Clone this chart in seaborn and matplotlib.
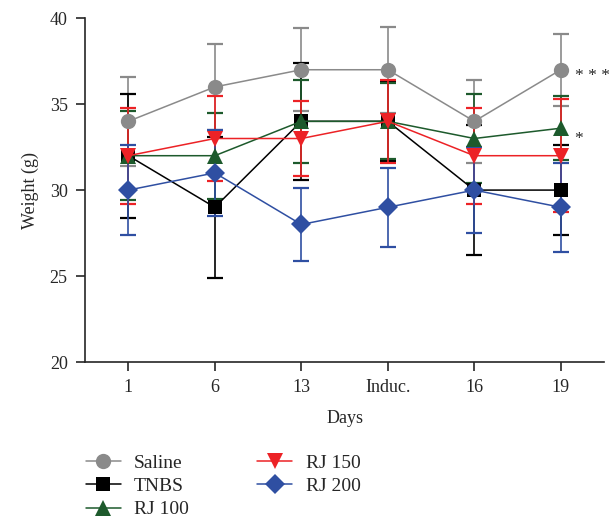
import numpy as np
import pandas as pd
import matplotlib
matplotlib.use("Agg")
import matplotlib.pyplot as plt
import seaborn as sns

# Données
days = ["1", "6", "13", "Induc.", "16", "19"]
groups = ["Saline", "TNBS", "RJ 100", "RJ 150", "RJ 200"]
saline = [34, 36, 37, 37, 34, 37]
saline_sd = [2.6, 2.5, 2.4, 2.5, 2.4, 2.1]
tnbs = [32, 29, 34, 34, 30, 30]
tnbs_sd = [3.6, 4.1, 3.4, 2.3, 3.8, 2.6]
rj100 = [32, 32, 34, 34, 33, 33.6]
rj100_sd = [2.6, 2.5, 2.4, 2.2, 2.6, 1.85]
rj150 = [32, 33, 33, 34, 32, 32]
rj150_sd = [2.8, 2.5, 2.2, 2.4, 2.8, 3.3]
rj200 = [30, 31, 28, 29, 30, 29]
rj200_sd = [2.6, 2.5, 2.1, 2.3, 2.5, 2.6]
stars = ["* * *", "*"]

sns.set_style("ticks")
plt.rcParams["font.family"] = ["Liberation Serif", "DejaVu Serif"]

colors = ["#8a8a8a", "#000000", "#1d5a2c", "#ec2226", "#2f4fa2"]
markers = ["o", "s", "^", "v", "D"]
sizes = [11, 10, 11, 12, 10]
means = [saline, tnbs, rj100, rj150, rj200]
sds = [saline_sd, tnbs_sd, rj100_sd, rj150_sd, rj200_sd]

rows = []
for g, m, s in zip(groups, means, sds):
    for i, d in enumerate(days):
        rows.append({"Group": g, "pos": i, "Day": d, "Weight": m[i], "SD": s[i]})
df = pd.DataFrame(rows)

fig = plt.figure(figsize=(6.12, 5.19), dpi=100)
ax = fig.add_axes([0.139, 0.3025, 0.848, 0.6625])

for g, c in zip(groups, colors):
    sub = df[df["Group"] == g]
    ax.errorbar(sub["pos"], sub["Weight"], yerr=sub["SD"], fmt="none",
                ecolor=c, elinewidth=1.2, capsize=6, capthick=1.6, zorder=2)

for g, c, mk, ms in zip(groups, colors, markers, sizes):
    sub = df[df["Group"] == g]
    sns.lineplot(data=sub, x="pos", y="Weight", ax=ax, color=c, marker=mk,
                 markersize=ms, markeredgewidth=0, linewidth=1.1, label=g,
                 zorder=3)

ax.text(5.16, saline[5] - 0.35, stars[0], va="center", ha="left", fontsize=12.5)
ax.text(5.16, rj100[5] - 0.6, stars[1], va="center", ha="left", fontsize=12.5)

ax.set_xlim(-0.5, 5.5)
ax.set_ylim(20, 40)
ax.set_xticks(range(len(days)))
ax.set_xticklabels(days)
ax.set_yticks([20, 25, 30, 35, 40])
ax.tick_params(axis="both", labelsize=13, length=6.5, width=1.2, pad=6)
ax.set_xlabel("Days", fontsize=13, labelpad=10)
ax.set_ylabel("Weight (g)", fontsize=13, labelpad=8)
sns.despine(ax=ax)
for sp in ["left", "bottom"]:
    ax.spines[sp].set_linewidth(1.2)

h, l = ax.get_legend_handles_labels()
ax.legend_.remove()
fig.legend(h, l, ncol=2, loc="upper left", bbox_to_anchor=(0.127, 0.139),
           frameon=False, fontsize=14, handlelength=1.8, handletextpad=0.7,
           columnspacing=3.5, labelspacing=0.28, borderaxespad=0)

fig.savefig("out.png", dpi=100)
